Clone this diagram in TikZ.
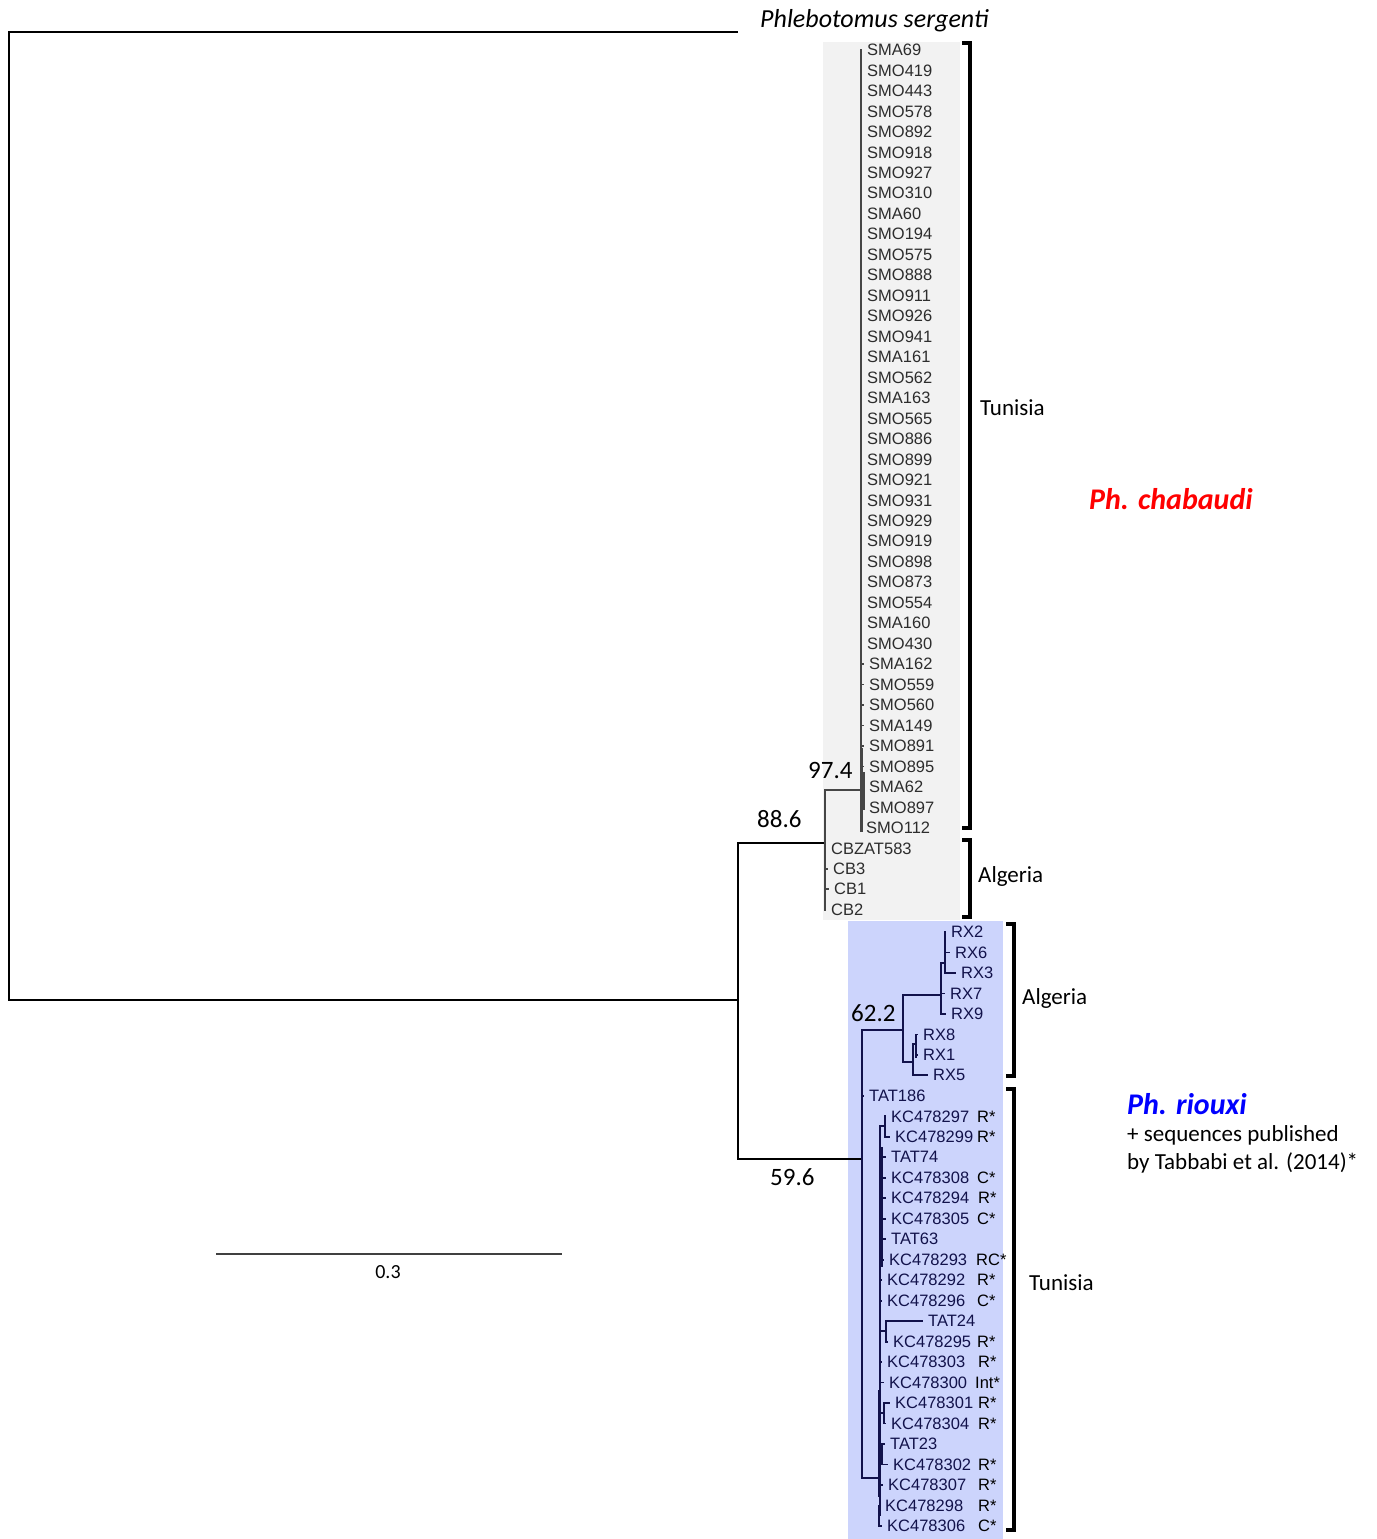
\documentclass[tikz,border=0pt]{standalone}
\usepackage{fontspec}
\setmainfont{Carlito}
\newfontfamily\treefont{Liberation Sans}
\usepackage{tikz}
\usepackage{xcolor}
\definecolor{chabbox}{RGB}{242,242,242}
\definecolor{rioubox}{RGB}{204,212,252}
\definecolor{chabline}{RGB}{70,70,70}
\definecolor{chabtext}{RGB}{45,45,45}
\definecolor{riouline}{RGB}{18,18,75}
\definecolor{rioutext}{RGB}{18,18,75}

\tikzset{
  leaf/.style={anchor=west, inner sep=1pt, font=\treefont\fontsize{16.5}{18}\selectfont},
  ann/.style={anchor=west, inner sep=0pt, font=\fontsize{23}{26}\selectfont},
  boot/.style={anchor=west, inner sep=0pt, font=\fontsize{25}{28}\selectfont},
  species/.style={anchor=west, inner sep=0pt, font=\fontsize{30}{32}\selectfont\bfseries\itshape},
  bracket/.style={line width=3.2pt, black},
  edge/.style={line width=1.8pt},
  tip/.style={xshift=-4pt},
}

\begin{document}
\begin{tikzpicture}[x=1pt, y=-1pt]
        \useasboundingbox (0,0) rectangle (1376,1539);
        % clade boxes
        \fill[chabbox] (823,42) rectangle (960,920);
        \fill[rioubox] (848,921) rectangle (1003,1539);

        % outgroup and root
        \coordinate (root) at (9,515);
        \coordinate (serg) at (738,32);
        \coordinate (nIn) at (738,1000);
        \coordinate (nChab) at (825,843);
        \coordinate (nRio) at (862,1159);
        \draw[line width=2pt] (root) |- (serg);
        \draw[line width=2pt] (root) |- (nIn);
        \draw[line width=2pt] (nIn) |- (nChab);
        \draw[line width=2pt] (nIn) |- (nRio);
        \node[anchor=west, inner sep=0pt, font=\fontsize{26}{28}\selectfont\itshape] (sergenti) at (760,21) {Phlebotomus sergenti};

        % Ph. chabaudi
        \coordinate (nTunC) at (861,790);
        \draw[edge, chabline] (nChab) |- (nTunC);
        \foreach \lab/\xx [count=\i from 0] in {SMA69/867,SMO419/867,SMO443/867,SMO578/867,SMO892/867,
            SMO918/867,SMO927/867,SMO310/867,SMA60/867,SMO194/867,SMO575/867,SMO888/867,SMO911/867,
            SMO926/867,SMO941/867,SMA161/867,SMO562/867,SMA163/867,SMO565/867,SMO886/867,SMO899/867,
            SMO921/867,SMO931/867,SMO929/867,SMO919/867,SMO898/867,SMO873/867,SMO554/867,SMA160/867,
            SMO430/867,SMA162/869,SMO559/869,SMO560/869,SMA149/869,SMO891/869,SMO895/869,SMA62/869,
            SMO897/869,SMO112/866} {
            \node[leaf, text=chabtext] (c\i) at (\xx-1, {50+20.47*\i}) {\lab};
            \draw[edge, chabline] (nTunC) |- ([tip]c\i.west);
        }
        \foreach \lab/\xx [count=\i from 39] in {CBZAT583/831,CB3/833,CB1/834,CB2/831} {
            \node[leaf, text=chabtext] (c\i) at (\xx-1, {50+20.47*\i}) {\lab};
            \draw[edge, chabline] (nChab) |- ([tip]c\i.west);
        }
        \draw[chabline, line width=3pt] (861,748) -- (861,832);
        \draw[chabline, line width=2.4pt] (863.5,772) -- (863.5,810);

        % Ph. riouxi
        \foreach \lab/\xx [count=\j from 0] in {RX2/951,RX6/955,RX3/961,RX7/950,RX9/951,RX8/923,RX1/923,
            RX5/933,TAT186/869,KC478297/891,KC478299/895,TAT74/891,KC478308/891,KC478294/891,
            KC478305/891,TAT63/891,KC478293/889,KC478292/887,KC478296/887,TAT24/928,KC478295/893,
            KC478303/887,KC478300/889,KC478301/895,KC478304/891,TAT23/890,KC478302/893,KC478307/888,
            KC478298/885,KC478306/887} {
            \node[leaf, text=rioutext] (r\j) at (\xx-1, {932+20.48*\j}) {\lab};
        }
        \foreach \j/\tag/\tx in {9/R*/977,10/R*/977,12/C*/977,13/R*/978,14/C*/977,16/RC*/976,
            17/R*/977,18/C*/977,20/R*/977,21/R*/978,22/Int*/975,23/R*/978,24/R*/978,26/R*/978,
            27/R*/978,28/R*/978,29/C*/978} {
            \node[leaf, text=black] (t\j) at (\tx-1, {932+20.48*\j}) {\tag};
        }
        \coordinate (nA) at (903,1030);
        \coordinate (nRX) at (941,995);
        \coordinate (nRX2) at (945,963);
        \coordinate (nR8) at (913,1062);
        \coordinate (n81) at (916,1044);
        \coordinate (nT) at (880,1478);
        \coordinate (p1) at (885,1126);
        \coordinate (p2) at (886,1331);
        \coordinate (p3) at (884,1413);
        \coordinate (p4) at (882,1454);
        \coordinate (p5) at (879,1515);
        \begin{scope}[edge, riouline]
            \draw (nRio) |- (nA);
            \draw (nRio) |- ([tip]r8.west);
            \draw (nRio) |- (nT);
            \draw (nA) |- (nRX);
            \draw (nA) |- (nR8);
            \draw (nRX) |- (nRX2);
            \draw (nRX) |- ([tip]r3.west);
            \draw (nRX) |- ([tip]r4.west);
            \foreach \k in {0,1,2} \draw (nRX2) |- ([tip]r\k.west);
            \draw (nR8) |- (n81);
            \draw (nR8) |- ([tip]r7.west);
            \foreach \k in {5,6} \draw (n81) |- ([tip]r\k.west);
            \foreach \p in {p1,p2,p3,p4,p5} \draw (nT) |- (\p);
            \foreach \k in {11,...,18,21,22,27} \draw (nT) |- ([tip]r\k.west);
            \foreach \k in {9,10} \draw (p1) |- ([tip]r\k.west);
            \foreach \k in {19,20} \draw (p2) |- ([tip]r\k.west);
            \foreach \k in {23,24} \draw (p3) |- ([tip]r\k.west);
            \foreach \k in {25,26} \draw (p4) |- ([tip]r\k.west);
            \foreach \k in {28,29} \draw (p5) |- ([tip]r\k.west);
        \end{scope}
        \draw[riouline, line width=3pt] (881,1147) -- (881,1267);
        \draw[riouline, line width=3pt] (879,1390) -- (879,1497);
        \draw[riouline, line width=2.6pt] (916,1040) -- (916,1058);

        % bootstrap values
        \node[boot] (b974) at (808,770) {97.4};
        \node[boot] (b886) at (757,819) {88.6};
        \node[boot] (b622) at (851,1013) {62.2};
        \node[boot] (b596) at (770,1177) {59.6};

        % brackets and country labels
        \draw[bracket] (962,43) -- (970,43) -- (970,828) -- (962,828);
        \draw[bracket] (962,840) -- (970,840) -- (970,917) -- (962,917);
        \draw[bracket] (1006,924) -- (1014,924) -- (1014,1076) -- (1006,1076);
        \draw[bracket] (1006,1089) -- (1014,1089) -- (1014,1530) -- (1006,1530);
        \node[ann] (tunC) at (980,408) {Tunisia};
        \node[ann] (algC) at (978,876) {Algeria};
        \node[ann] (algR) at (1022,998) {Algeria};
        \node[ann] (tunR) at (1029,1283) {Tunisia};

        % species names
        \node[species, text=red] (chab) at (1089,499) {Ph. chabaudi};
        \node[species, text=blue] (riou) at (1127,1104) {Ph. riouxi};
        \node[ann] (seq1) at (1127,1135) {+ sequences published};
        \node[ann] (seq2) at (1127,1163) {by Tabbabi et al. (2014)*};

        % scale bar
        \coordinate (sbL) at (216,1254);
        \coordinate (sbR) at (562,1254);
        \draw[line width=1.6pt, black!75] (sbL) -- (sbR);
        \node[inner sep=0pt, font=\fontsize{20}{22}\selectfont] (sb) at (388,1272) {0.3};
    \end{tikzpicture}
\end{document}
